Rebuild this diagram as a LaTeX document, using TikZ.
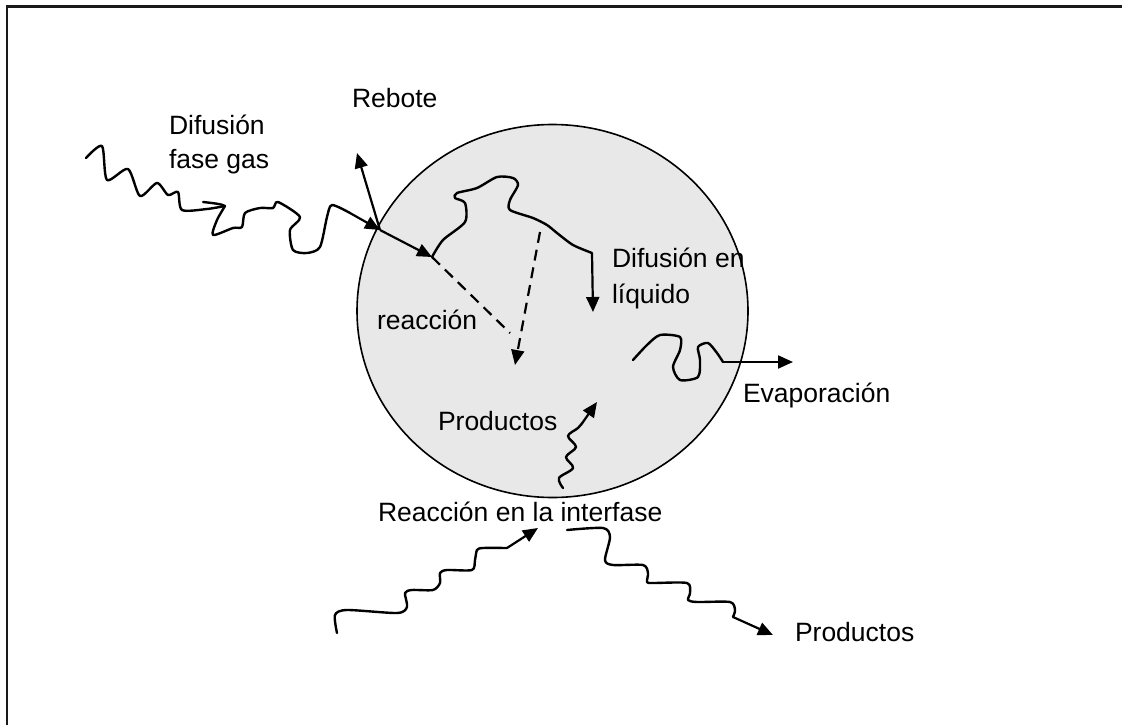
\documentclass[tikz,border=0pt]{standalone}
\usepackage{fontspec}
\setmainfont{Liberation Sans}
\usetikzlibrary{arrows.meta,shapes.geometric}
\definecolor{dropfill}{RGB}{232,232,232}
\definecolor{ink}{RGB}{0,0,0}
\tikzset{
  lbl/.style={anchor=base west, inner sep=0pt, outer sep=0pt,
              font=\fontsize{26.5}{34}\selectfont, text=ink},
  wig/.style={draw=ink, line width=2.4pt, line join=round, line cap=round},
  arr/.style={draw=ink, line width=2.2pt, -{Triangle[length=15pt,width=13pt]}},
  dsh/.style={draw=ink, line width=2.2pt, dash pattern=on 11pt off 7pt},
}
\begin{document}
\begin{tikzpicture}[x=1pt,y=-1pt]
\useasboundingbox (0,0) rectangle (1122,725);
% frame
\draw[line width=2.5pt, draw=ink!90] (7,725) -- (7,6.5) -- (1122,6.5);
% droplet
\node[draw=ink, line width=1.6pt, fill=dropfill, ellipse, minimum width=391pt, minimum height=373pt, inner sep=0pt] (drop) at (552.5,311) {};
% named points
\coordinate (hit) at (380,230);
\coordinate (reb) at (357,153);
\coordinate (in) at (432,257);
\coordinate (reactA) at (510,333);
\coordinate (dstart) at (540,232);
\coordinate (reactB) at (515,365);
\coordinate (ldrop) at (592,253);
\coordinate (ldown) at (593,312);
\coordinate (evs) at (723,362);
\coordinate (eve) at (793,362);
\coordinate (prs) at (583,422);
\coordinate (pre) at (597,402);
\coordinate (bls) at (507,548);
\coordinate (ble) at (538,528);
\coordinate (brs) at (733,617);
\coordinate (bre) at (773,635);
% gas-phase diffusion
\draw[wig] plot[smooth, tension=0.45] coordinates {(86,158) (102,146) (107,180) (128,169) (140,196) (157,183) (168,195) (178,192) (182,210) (207,209) (225,206)};
\draw[wig] (203,202) .. controls (212,203) and (222,204) .. (225,206);
\draw[wig] plot[smooth, tension=0.45] coordinates {(225,206) (217,220) (213,235) (233,228) (242,227) (245,213) (260,208) (273,208) (278,202) (300,217) (290,230) (293,250) (307,253) (320,247) (327,217) (332,205) (350,213)};
\draw[arr] (350,213) -- (hit);
\draw[arr] (hit) -- (reb);
\draw[arr] (hit) -- (in);
% liquid-phase diffusion
\draw[wig] plot[smooth, tension=0.45] coordinates {(in) (443,240) (465,222) (465,203) (455,198) (457,193) (477,188) (497,177) (513,178) (518,185) (510,200) (510,210) (533,218) (547,225) (557,233) (573,245) (ldrop)};
\draw[arr] (ldrop) -- (ldown);
% reactions (dashed)
\draw[dsh] (in) -- (reactA);
\draw[dsh, -{Triangle[length=15pt,width=13pt]}] (dstart) -- (reactB);
% evaporation
\draw[wig] plot[smooth, tension=0.45] coordinates {(633,360) (647,345) (660,335) (680,337) (680,350) (673,367) (680,380) (698,377) (700,360) (698,347) (708,343) (717,353) (evs)};
\draw[arr] (evs) -- (eve);
% products inside (wavy arrow)
\draw[wig] plot[smooth, tension=0.55] coordinates {(563,488) (559,478) (573,468) (566,457) (576,447) (568,436) (578,428) (prs)};
\draw[arr] (prs) -- (pre);
% bottom left wiggle
\draw[wig] plot[smooth, tension=0.45] coordinates {(337,633) (335,615) (347,610) (397,613) (407,607) (405,593) (412,590) (433,590) (440,583) (440,573) (447,570) (472,570) (475,560) (477,550) (483,548) (bls)};
\draw[arr] (bls) -- (ble);
% bottom right wiggle
\draw[wig] plot[smooth, tension=0.45] coordinates {(567,530) (603,528) (610,537) (605,560) (613,565) (643,565) (648,573) (647,582) (653,583) (687,583) (690,593) (688,600) (697,602) (730,602) (735,610) (brs)};
\draw[arr] (brs) -- (bre);
% labels
\node[lbl] (tgas1) at (169,134) {Difusión};
\node[lbl] (tgas2) at (169,168) {fase gas};
\node[lbl] (treb) at (352,107) {Rebote};
\node[lbl] (tliq1) at (612,267) {Difusión en};
\node[lbl] (tliq2) at (612,303) {líquido};
\node[lbl] (treac) at (377,329) {reacción};
\node[lbl] (tprod) at (438,430) {Productos};
\node[lbl] (tevap) at (743,402) {Evaporación};
\node[lbl] (tint) at (378,521) {Reacción en la interfase};
\node[lbl] (tprod2) at (795,641) {Productos};
\end{tikzpicture}
\end{document}
